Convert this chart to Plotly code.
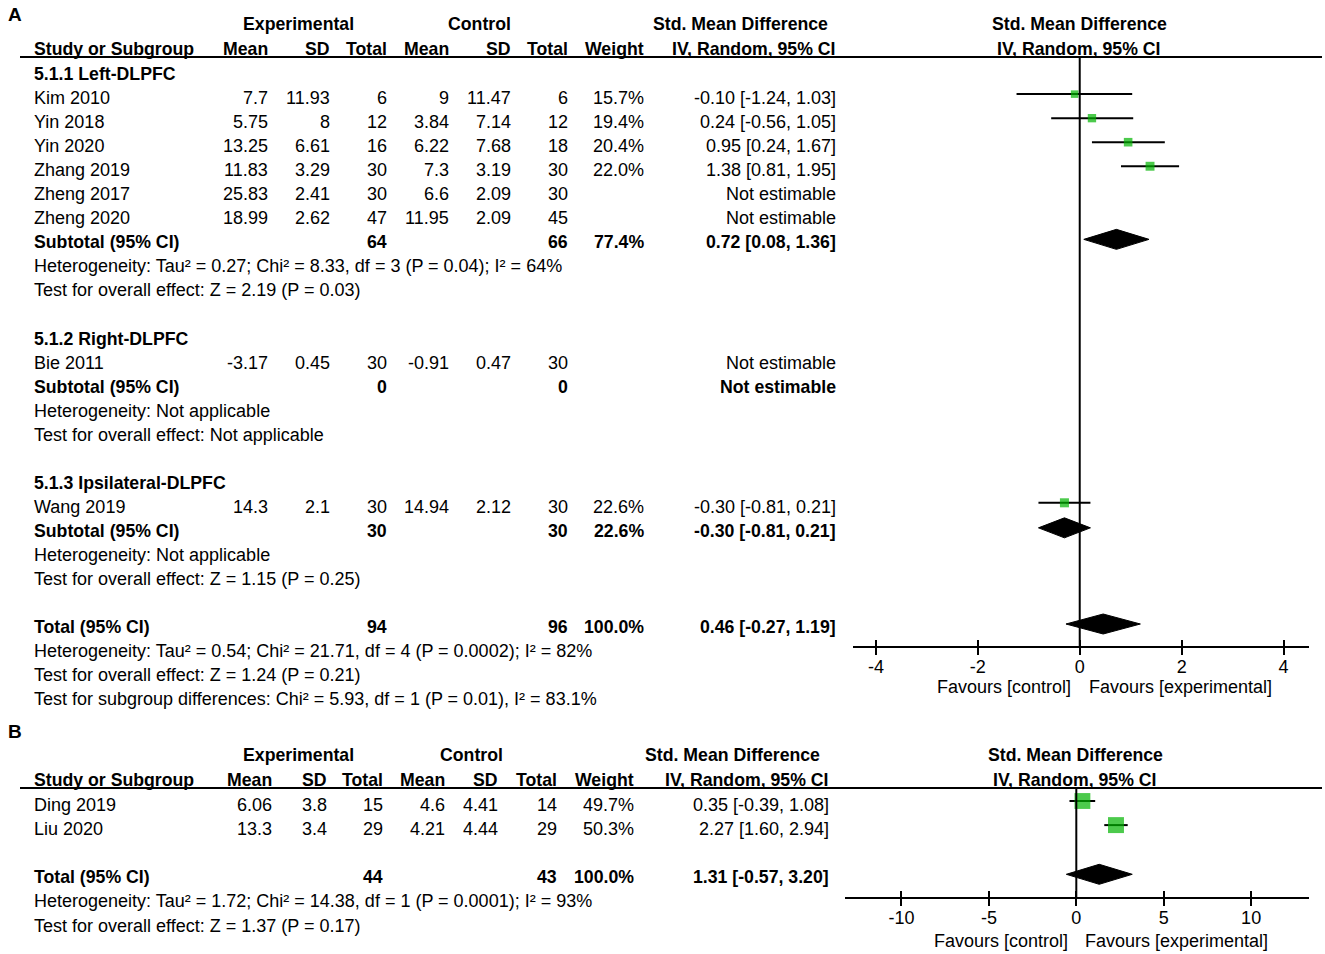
import plotly.graph_objects as go
import math

# ---- panel A data ----
a_groups = ["5.1.1 Left-DLPFC", "5.1.2 Right-DLPFC", "5.1.3 Ipsilateral-DLPFC"]
a_study = ["Kim 2010", "Yin 2018", "Yin 2020", "Zhang 2019", "Zheng 2017", "Zheng 2020", "Bie 2011", "Wang 2019"]
a_group = [0, 0, 0, 0, 0, 0, 1, 2]
a_exp_mean = [7.7, 5.75, 13.25, 11.83, 25.83, 18.99, -3.17, 14.3]
a_exp_sd = [11.93, 8, 6.61, 3.29, 2.41, 2.62, 0.45, 2.1]
a_exp_n = [6, 12, 16, 30, 30, 47, 30, 30]
a_ctl_mean = [9, 3.84, 6.22, 7.3, 6.6, 11.95, -0.91, 14.94]
a_ctl_sd = [11.47, 7.14, 7.68, 3.19, 2.09, 2.09, 0.47, 2.12]
a_ctl_n = [6, 12, 18, 30, 30, 45, 30, 30]
a_weight = [15.7, 19.4, 20.4, 22.0, None, None, None, 22.6]
a_smd = [-0.10, 0.24, 0.95, 1.38, None, None, None, -0.30]
a_lo = [-1.24, -0.56, 0.24, 0.81, None, None, None, -0.81]
a_hi = [1.03, 1.05, 1.67, 1.95, None, None, None, 0.21]

a_sub_exp_n = [64, 0, 30]
a_sub_ctl_n = [66, 0, 30]
a_sub_weight = [77.4, None, 22.6]
a_sub_smd = [0.72, None, -0.30]
a_sub_lo = [0.08, None, -0.81]
a_sub_hi = [1.36, None, 0.21]
a_sub_het = ["Heterogeneity: Tau² = 0.27; Chi² = 8.33, df = 3 (P = 0.04); I² = 64%",
             "Heterogeneity: Not applicable",
             "Heterogeneity: Not applicable"]
a_sub_test = ["Test for overall effect: Z = 2.19 (P = 0.03)",
              "Test for overall effect: Not applicable",
              "Test for overall effect: Z = 1.15 (P = 0.25)"]

a_total = dict(exp_n=94, ctl_n=96, weight=100.0, smd=0.46, lo=-0.27, hi=1.19)
a_total_notes = ["Heterogeneity: Tau² = 0.54; Chi² = 21.71, df = 4 (P = 0.0002); I² = 82%",
                 "Test for overall effect: Z = 1.24 (P = 0.21)",
                 "Test for subgroup differences: Chi² = 5.93, df = 1 (P = 0.01), I² = 83.1%"]
a_ticks = [-4, -2, 0, 2, 4]

# ---- panel B data ----
b_study = ["Ding 2019", "Liu 2020"]
b_exp_mean = [6.06, 13.3]
b_exp_sd = [3.8, 3.4]
b_exp_n = [15, 29]
b_ctl_mean = [4.6, 4.21]
b_ctl_sd = [4.41, 4.44]
b_ctl_n = [14, 29]
b_weight = [49.7, 50.3]
b_smd = [0.35, 2.27]
b_lo = [-0.39, 1.60]
b_hi = [1.08, 2.94]
b_total = dict(exp_n=44, ctl_n=43, weight=100.0, smd=1.31, lo=-0.57, hi=3.20)
b_total_notes = ["Heterogeneity: Tau² = 1.72; Chi² = 14.38, df = 1 (P = 0.0001); I² = 93%",
                 "Test for overall effect: Z = 1.37 (P = 0.17)"]
b_ticks = [-10, -5, 0, 5, 10]

W, H = 1325, 954
FONT = "Arial, Liberation Sans, sans-serif"
FS = 18      # regular text
FSB = 17.7   # bold text
GREEN = "#00b400"

annotations = []
shapes = []
fig = go.Figure()


def txt(x, y, s, anchor="left", bold=False, size=None):
    if size is None:
        size = FSB if bold else FS
    if bold:
        s = "<b>" + s + "</b>"
    # annotations carry ~2px of padding; compensate so text edges land on x
    if anchor == "left":
        x -= 2
    elif anchor == "right":
        x += 2
    annotations.append(dict(x=x / W, y=y, xref="paper", yref="y", text=s, showarrow=False,
                            xanchor=anchor, yanchor="middle",
                            font=dict(family=FONT, size=size, color="black")))


def fmt(v):
    return "{:g}".format(v)


def ci(m, lo, hi):
    return "{:.2f} [{:.2f}, {:.2f}]".format(m, lo, hi)


def pct(w):
    return "{:.1f}%".format(w)


def header(ytop, cols, grp_x, plot_cx):
    y1, y2 = ytop, ytop + 24.5
    txt(grp_x[0], y1, "Experimental", "center", True)
    txt(grp_x[1], y1, "Control", "center", True)
    txt(grp_x[2], y1, "Std. Mean Difference", "center", True)
    txt(34, y2, "Study or Subgroup", "left", True)
    for x, s in zip(cols, ["Mean", "SD", "Total", "Mean", "SD", "Total", "Weight", "IV, Random, 95% CI"]):
        txt(x, y2, s, "right", True)
    txt(plot_cx, y1, "Std. Mean Difference", "center", True)
    txt(plot_cx, y2, "IV, Random, 95% CI", "center", True)
    shapes.append(dict(type="line", xref="paper", yref="y", x0=20 / W, x1=1322 / W,
                       y0=y2 + 8.5, y1=y2 + 8.5, line=dict(color="black", width=2)))


def study_row(cols, y, name, em, es, en, cm, cs, cn, w, m, lo, hi):
    txt(34, y, name)
    vals = [fmt(em), fmt(es), str(en), fmt(cm), fmt(cs), str(cn)]
    for x, s in zip(cols, vals):
        txt(x, y, s, "right")
    if w is not None:
        txt(cols[6], y, pct(w), "right")
        txt(cols[7], y, ci(m, lo, hi), "right")
    else:
        txt(cols[7], y, "Not estimable", "right")


def forest(xaxis, ys, m, lo, hi, w, scale):
    xs, yl = [], []
    for yy, a, b in zip(ys, lo, hi):
        xs += [a, b, None]
        yl += [yy, yy, None]
    fig.add_trace(go.Scatter(x=xs, y=yl, mode="lines", xaxis=xaxis, yaxis="y",
                             line=dict(color="black", width=2), hoverinfo="skip", showlegend=False))
    fig.add_trace(go.Scatter(x=m, y=ys, mode="markers", xaxis=xaxis, yaxis="y",
                             marker=dict(symbol="square", color=GREEN,
                                         size=[scale * math.sqrt(v) for v in w], line=dict(width=0)),
                             showlegend=False))


def diamond(xaxis, y, m, lo, hi):
    fig.add_trace(go.Scatter(x=[lo, m, hi, m, lo], y=[y, y - 10, y, y + 10, y], mode="lines",
                             fill="toself", fillcolor="black", line=dict(color="black", width=1),
                             xaxis=xaxis, yaxis="y", hoverinfo="skip", showlegend=False))


# ================= Panel A =================
cols_a = [268, 330, 387, 449, 511, 568, 644, 836]
txt(8, 14, "A", "left", True, 19)
header(24, cols_a, [298, 479, 740], 1079)


def row_a(n):
    return 26 + 24.04 * n


DY = -4  # boxes sit slightly above the text centre
r = 2
fy, fm, flo, fhi, fw = [], [], [], [], []
for g, gname in enumerate(a_groups):
    txt(34, row_a(r), gname, "left", True)
    r += 1
    for i, s in enumerate(a_study):
        if a_group[i] != g:
            continue
        y = row_a(r)
        study_row(cols_a, y, s, a_exp_mean[i], a_exp_sd[i], a_exp_n[i], a_ctl_mean[i],
                  a_ctl_sd[i], a_ctl_n[i], a_weight[i], a_smd[i], a_lo[i], a_hi[i])
        if a_smd[i] is not None:
            fy.append(y + DY); fm.append(a_smd[i]); flo.append(a_lo[i]); fhi.append(a_hi[i]); fw.append(a_weight[i])
        r += 1
    y = row_a(r)
    txt(34, y, "Subtotal (95% CI)", "left", True)
    txt(cols_a[2], y, str(a_sub_exp_n[g]), "right", True)
    txt(cols_a[5], y, str(a_sub_ctl_n[g]), "right", True)
    if a_sub_smd[g] is not None:
        txt(cols_a[6], y, pct(a_sub_weight[g]), "right", True)
        txt(cols_a[7], y, ci(a_sub_smd[g], a_sub_lo[g], a_sub_hi[g]), "right", True)
        diamond("x", y - 3, a_sub_smd[g], a_sub_lo[g], a_sub_hi[g])
    else:
        txt(cols_a[7], y, "Not estimable", "right", True)
    txt(34, row_a(r + 1), a_sub_het[g])
    txt(34, row_a(r + 2), a_sub_test[g])
    r += 4

forest("x", fy, fm, flo, fhi, fw, 1.9)

y = row_a(r)
txt(34, y, "Total (95% CI)", "left", True)
txt(cols_a[2], y, str(a_total["exp_n"]), "right", True)
txt(cols_a[5], y, str(a_total["ctl_n"]), "right", True)
txt(cols_a[6], y, pct(a_total["weight"]), "right", True)
txt(cols_a[7], y, ci(a_total["smd"], a_total["lo"], a_total["hi"]), "right", True)
diamond("x", y - 3, a_total["smd"], a_total["lo"], a_total["hi"])
for k, s in enumerate(a_total_notes):
    txt(34, row_a(r + 1 + k), s)

axis_a_y = 647
shapes.append(dict(type="line", xref="x", yref="y", x0=0, x1=0, y0=57, y1=axis_a_y,
                   line=dict(color="black", width=2)))
txt(1071, 687, "Favours [control]", "right")
txt(1089, 687, "Favours [experimental]", "left")

# ================= Panel B =================
cols_b = [272, 327, 383, 445, 498, 557, 634, 829]
txt(8, 731, "B", "left", True, 19)
header(755, cols_b, [298, 471, 732], 1075)


def row_b(n):
    return 805 + 24.1 * n


fy = []
for i, s in enumerate(b_study):
    y = row_b(i)
    study_row(cols_b, y, s, b_exp_mean[i], b_exp_sd[i], b_exp_n[i], b_ctl_mean[i],
              b_ctl_sd[i], b_ctl_n[i], b_weight[i], b_smd[i], b_lo[i], b_hi[i])
    fy.append(y + DY)
forest("x2", fy, b_smd, b_lo, b_hi, b_weight, 2.25)

y = row_b(3)
txt(34, y, "Total (95% CI)", "left", True)
txt(cols_b[2], y, str(b_total["exp_n"]), "right", True)
txt(cols_b[5], y, str(b_total["ctl_n"]), "right", True)
txt(cols_b[6], y, pct(b_total["weight"]), "right", True)
txt(cols_b[7], y, ci(b_total["smd"], b_total["lo"], b_total["hi"]), "right", True)
diamond("x2", y - 3, b_total["smd"], b_total["lo"], b_total["hi"])
for k, s in enumerate(b_total_notes):
    txt(34, row_b(4 + k), s)

axis_b_y = 898
shapes.append(dict(type="line", xref="x2", yref="y", x0=0, x1=0, y0=789, y1=axis_b_y,
                   line=dict(color="black", width=2)))
txt(1068, 941, "Favours [control]", "right")
txt(1085, 941, "Favours [experimental]", "left")


def xaxis(dom, rng, pos, ticks, inside=False, overlay=None):
    d = dict(domain=[dom[0] / W, dom[1] / W], range=rng, anchor="free", position=1 - pos / H,
             tickvals=ticks, ticktext=[str(t) for t in ticks], showgrid=False, zeroline=False,
             tickcolor="black", tickwidth=2, ticklen=7, fixedrange=True,
             tickfont=dict(family=FONT, size=FS, color="black"))
    if inside:
        d.update(ticks="inside", showticklabels=False, showline=False, overlaying=overlay)
    else:
        d.update(ticks="outside", showline=True, linecolor="black", linewidth=2,
                 ticklabelstandoff=-4)
    return d


rng_a = [-4.45, 4.50]
rng_b = [-13.23, 13.31]
fig.update_layout(
    width=W, height=H,
    margin=dict(l=0, r=0, t=0, b=0),
    paper_bgcolor="white", plot_bgcolor="rgba(0,0,0,0)",
    showlegend=False,
    xaxis=xaxis((853, 1309), rng_a, axis_a_y, a_ticks),
    xaxis3=xaxis((853, 1309), rng_a, axis_a_y, a_ticks, inside=True, overlay="x"),
    xaxis2=xaxis((845, 1309), rng_b, axis_b_y, b_ticks),
    xaxis4=xaxis((845, 1309), rng_b, axis_b_y, b_ticks, inside=True, overlay="x2"),
    yaxis=dict(domain=[0, 1], range=[H, 0], visible=False, fixedrange=True),
    annotations=annotations,
    shapes=shapes,
)
# invisible traces so the overlay tick axes get drawn
fig.add_trace(go.Scatter(x=[0], y=[-50], xaxis="x3", yaxis="y", mode="markers",
                         marker=dict(opacity=0), hoverinfo="skip", showlegend=False))
fig.add_trace(go.Scatter(x=[0], y=[-50], xaxis="x4", yaxis="y", mode="markers",
                         marker=dict(opacity=0), hoverinfo="skip", showlegend=False))

# drop the browser's default 8px body margin so the figure sits at the page corner
fig.write_html("out.html", config={"displayModeBar": False},
               post_script="document.body.style.margin='0px';")
